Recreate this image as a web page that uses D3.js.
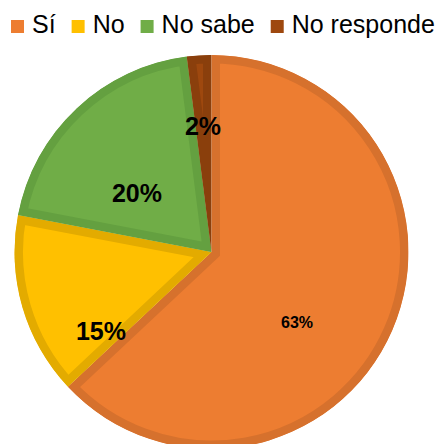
<!DOCTYPE html>
<html>
<head>
<meta charset="utf-8">
<script src="https://cdn.jsdelivr.net/npm/d3@7"></script>
<style>
  body { margin: 0; background: #fff; }
  svg { display: block; font-family: "Liberation Sans", Arial, sans-serif; }
</style>
</head>
<body>
<div id="chart"></div>
<script>
var categories = ['Sí', 'No', 'No sabe', 'No responde'];
var values = [63, 15, 20, 2];
var labels = ['63%', '15%', '20%', '2%'];
var fills = ['#ED7D31', '#FFC000', '#70AD47', '#9E480E'];
var edges = ['#D6712D', '#E3AB00', '#64A040', '#8A3F0C'];

var width = 443, height = 444,
    cx = 211.5, cy = 252, radius = 197;

var svg = d3.select('#chart').append('svg')
    .attr('width', width)
    .attr('height', height);

// legend along the top
var legend = svg.append('g');
var lx = 11;
categories.forEach(function(c, i) {
  legend.append('rect')
    .attr('x', lx).attr('y', 20)
    .attr('width', 13).attr('height', 13)
    .attr('fill', fills[i]);
  var t = legend.append('text')
    .attr('x', lx + 21).attr('y', 33)
    .attr('font-size', 25)
    .attr('fill', '#000')
    .text(c);
  lx += 21 + t.node().getComputedTextLength() + 16;
});

var pie = d3.pie().sort(null).value(function(d) { return d; });
var arc = d3.arc().innerRadius(0).outerRadius(radius);
var arcs = pie(values);

var g = svg.append('g').attr('transform', 'translate(' + cx + ',' + cy + ')');
var defs = svg.append('defs');

arcs.forEach(function(a, i) {
  defs.append('clipPath').attr('id', 'clip' + i)
    .append('path').attr('d', arc(a));
  // stroke clipped to the slice so the darker border sits inside it
  g.append('path')
    .attr('d', arc(a))
    .attr('fill', fills[i])
    .attr('stroke', edges[i])
    .attr('stroke-width', 17)
    .attr('stroke-linejoin', 'miter')
    .attr('clip-path', 'url(#clip' + i + ')');
});

// label positions as placed in the original
var labelPos = [[297, 324], [101, 333], [137, 195], [203, 128]];
var labelSize = [16, 25, 25, 25];
labels.forEach(function(l, i) {
  svg.append('text')
    .attr('x', labelPos[i][0]).attr('y', labelPos[i][1])
    .attr('text-anchor', 'middle')
    .attr('dominant-baseline', 'middle')
    .attr('font-size', labelSize[i])
    .attr('font-weight', 'bold')
    .attr('fill', '#000')
    .text(l);
});
</script>
</body>
</html>
